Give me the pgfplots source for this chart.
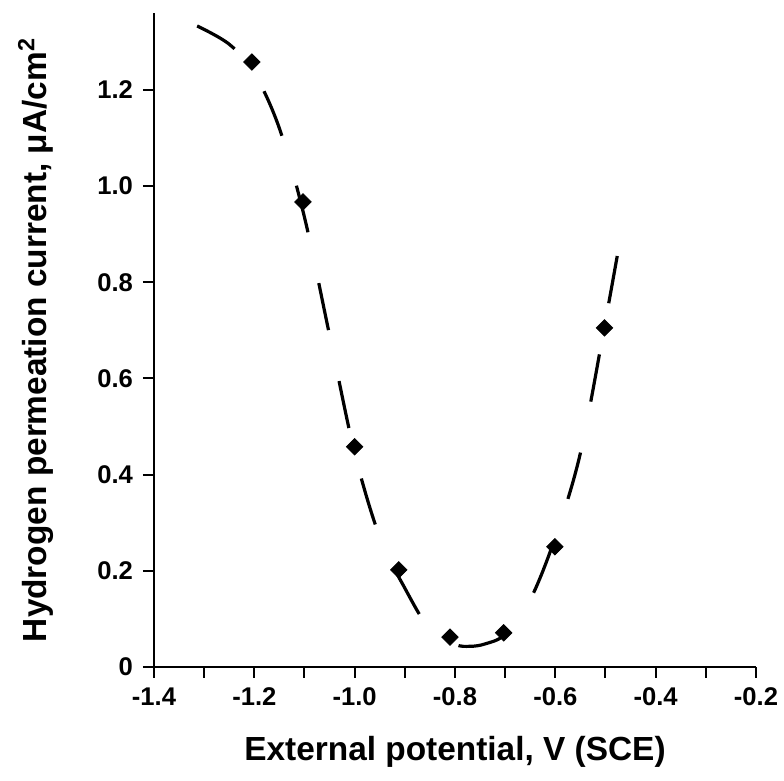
\documentclass[border=0pt]{standalone}
\usepackage{pgfplots}
\pgfplotsset{compat=1.18}
\usepackage{fontspec}
\setmainfont{Liberation Sans}
\begin{document}
\begin{tikzpicture}
\useasboundingbox (-77pt,-57pt) rectangle (315pt,333.5pt);
\begin{axis}[
  scale only axis,
  width=301pt, height=327pt,
  xmin=-1.4, xmax=-0.2, ymin=0, ymax=1.36,
  axis x line=bottom, axis y line=left,
  axis line style={-, line width=1.2pt},
  xtick={-1.4,-1.2,-1.0,-0.8,-0.6,-0.4,-0.2},
  xticklabels={-1.4,-1.2,-1.0,-0.8,-0.6,-0.4,-0.2},
  minor xtick={-1.3,-1.1,-0.9,-0.7,-0.5,-0.3},
  ytick={0,0.2,0.4,0.6,0.8,1.0,1.2},
  yticklabels={0,0.2,0.4,0.6,0.8,1.0,1.2},
  tick align=outside,
  major tick length=5.5pt, minor tick length=5.5pt,
  tick style={line width=1pt, black},
  ticklabel style={font=\fontsize{12.8}{15}\selectfont\bfseries},
  xticklabel style={yshift=-1.5pt},
  yticklabel style={xshift=-1.5pt},
  xlabel={External potential, V (SCE)},
  ylabel={Hydrogen permeation current, μA/cm\textsuperscript{2}},
  label style={font=\fontsize{16.7}{19}\selectfont\bfseries},
  xlabel style={at={(rel axis cs:0.5,0)}, anchor=center, yshift=-42.5pt},
  ylabel style={at={(rel axis cs:0,0.5)}, anchor=center, yshift=59pt},
  clip=false,
]
\addplot[black, line width=1.6pt, smooth, tension=0.55, dash pattern=on 24pt off 26pt, dash phase=2pt] coordinates {
(-1.314,1.333) (-1.25,1.295) (-1.2,1.235) (-1.15,1.12) (-1.1,0.935) (-1.05,0.69)
(-1.0,0.445) (-0.95,0.27) (-0.9,0.164) (-0.85,0.078) (-0.8,0.047) (-0.77,0.043)
(-0.74,0.048) (-0.7,0.068) (-0.65,0.14) (-0.6,0.27) (-0.55,0.445) (-0.5,0.72) (-0.474,0.87)
};
\addplot[only marks, mark=square*, mark size=2.9pt, mark options={rotate=45, fill=black, draw=black}] coordinates {
(-1.205,1.258) (-1.103,0.967) (-1.0,0.458) (-0.912,0.202) (-0.810,0.062) (-0.703,0.071) (-0.601,0.250) (-0.502,0.705)
};
\end{axis}
\end{tikzpicture}
\end{document}
